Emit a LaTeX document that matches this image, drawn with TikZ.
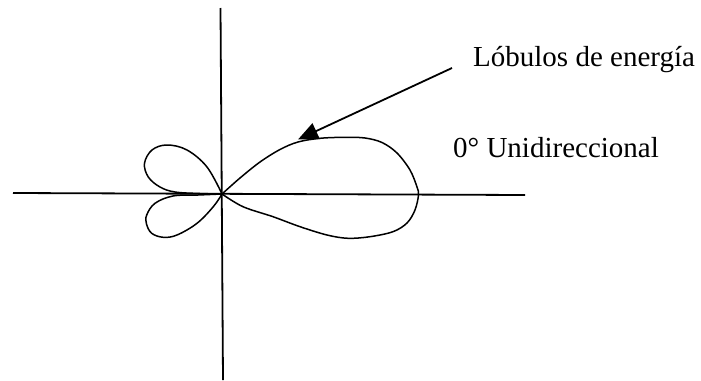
\documentclass[tikz,border=0pt]{standalone}
\usepackage{fontspec}
\setmainfont{Liberation Serif}
\usetikzlibrary{arrows.meta}
\tikzset{
  axisline/.style={line width=1.8pt, black},
  lobe/.style={line width=1.5pt, black},
  pointer/.style={line width=1.8pt, black, -{Triangle[length=20pt,width=17pt]}},
  lbl/.style={anchor=base west, inner sep=0pt, font=\fontsize{29}{34}\selectfont}
}
\begin{document}
\begin{tikzpicture}[x=1pt,y=-1pt]
\useasboundingbox (0,0) rectangle (701,380);
% axes
\coordinate (vtop) at (220.5,8);
\coordinate (vbot) at (223,380);
\coordinate (hleft) at (13,193);
\coordinate (hright) at (525,195);
\draw[axisline] (vtop) -- (vbot);
\draw[axisline] (hleft) -- (hright);
% main lobe
\draw[lobe] plot[smooth, tension=0.55] coordinates {
 (222,194) (240,178) (260,162) (280,149.5) (298,142) (320,138.3) (345,137.3)
 (365,138) (382,142.5) (397,153) (410,170) (417,187) (418.5,195) (415,210)
 (407,223) (393,231.7) (370,236.7) (348,238.3) (327,235) (300,226.7)
 (273,216.7) (243,206.7) (222,194)};
% upper small lobe
\draw[lobe] plot[smooth, tension=0.6] coordinates {
 (222,194) (207,167) (187,150) (167,145) (152,150) (144.5,163.3) (148.3,177)
 (160,187) (175,192) (200,193.5) (222,194)};
% lower small lobe
\draw[lobe] plot[smooth, tension=0.6] coordinates {
 (222,194) (198,195) (173,196) (155,203.3) (146.7,215) (146.5,224) (151.7,233.3)
 (163.3,237.3) (177,235) (197,223.3) (213.3,206.7) (222,194)};
% labels
\node[lbl] (lob) at (473,66) {Lóbulos de energía};
\node[lbl] (uni) at (453,157) {0° Unidireccional};
% pointer
\coordinate (ptail) at (452,68);
\coordinate (ptip) at (298,139.5);
\draw[pointer] (ptail) -- (ptip);
\end{tikzpicture}
\end{document}
